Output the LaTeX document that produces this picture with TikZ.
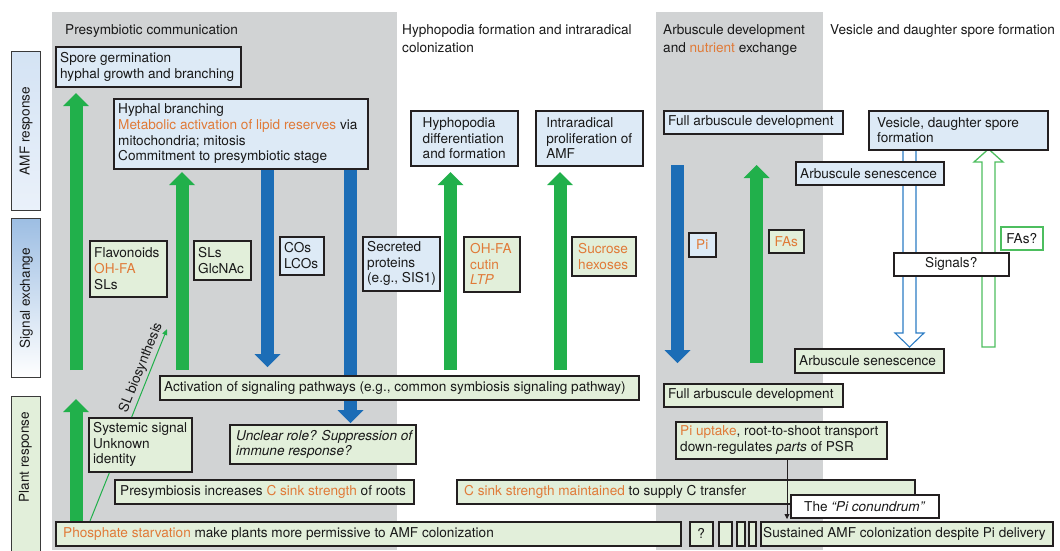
\documentclass[tikz,border=0pt]{standalone}
\usepackage{fontspec}
\setmainfont{TeX Gyre Heros}
\usetikzlibrary{arrows.meta}
\definecolor{panel}{HTML}{D1D3D4}
\definecolor{lblue}{HTML}{DDEAF6}
\definecolor{lgreen}{HTML}{E2EFDA}
\definecolor{orng}{HTML}{E07A38}
\definecolor{grn}{HTML}{21B04B}
\definecolor{blu}{HTML}{1C6DB6}
\definecolor{bord}{HTML}{231F20}
\definecolor{labbord}{HTML}{3A3A3A}
\definecolor{ogrn}{HTML}{4DBE5F}
\definecolor{oblu}{HTML}{2C7CC4}
\definecolor{amftop}{HTML}{D4E3F4}
\definecolor{amfbot}{HTML}{EAF1FA}
\definecolor{sigtop}{HTML}{9DBEE3}
\pgfdeclarelayer{back}
\pgfdeclarelayer{mid}
\pgfsetlayers{back,mid,main}
\newcommand\bxfont{\fontsize{13.6}{15.6}\selectfont}
\tikzset{
  bx/.style={draw=bord, line width=1.5pt, inner sep=0pt, anchor=north west},
  bb/.style={bx, fill=lblue},
  gb/.style={bx, fill=lgreen},
  wb/.style={bx, fill=white},
  qb/.style={bx, draw=ogrn, fill=white},
  txt/.style={inner sep=0pt, align=left, font=\bxfont, text=black!90},
  lab/.style={draw=labbord, line width=1.4pt, inner sep=0pt, anchor=north west, minimum width=29},
  garr/.style={draw=grn, line width=13pt, -{Triangle[width=26pt,length=13pt,line width=0pt]}},
  barr/.style={draw=blu, line width=13pt, -{Triangle[width=26pt,length=13pt,line width=0pt]}},
}
\newcommand\lbox[8]{%
  \node[#2, minimum width={#5-#3}, minimum height={#6-#4}] (#1) at (#3,#4) {};
  \node[txt, anchor=west, xshift=#7pt] (#1-t) at (#1.west) {#8};}
\newcommand\cbox[7]{%
  \node[#2, minimum width={#5-#3}, minimum height={#6-#4}] (#1) at (#3,#4) {};
  \node[txt] (#1-t) at (#1.center) {#7};}
\begin{document}
\begin{tikzpicture}[x=1pt,y=-1pt]
\useasboundingbox (0,0) rectangle (1060,550);
\begin{pgfonlayer}{back}
  \fill[panel] (52,12) rectangle (397,550);
  \fill[panel] (656,12) rectangle (823,550);
\end{pgfonlayer}

% column titles
\node[txt, anchor=base west] (t1) at (65,34) {Presymbiotic communication};
\node[txt, anchor=north west, font=\fontsize{13.6}{17.5}\selectfont] (t2) at (402,24.5) {Hyphopodia formation and intraradical\\colonization};
\node[txt, anchor=north west, font=\fontsize{13.6}{17.5}\selectfont] (t3) at (663,24.5) {Arbuscule development\\and \textcolor{orng}{nutrient} exchange};
\node[txt, anchor=base west] (t4) at (830,34) {Vesicle and daughter spore formation};

% row labels
\node[lab, minimum height=159, top color=amftop, bottom color=amfbot] (amf) at (11,51) {};
\node[txt, rotate=90] (amf-t) at (amf.center) {AMF response};
\node[lab, minimum height=159, top color=sigtop, bottom color=white] (sig) at (11,218) {};
\node[txt, rotate=90] (sig-t) at (sig.center) {Signal exchange};
\node[lab, minimum height=164, fill=lgreen] (plant) at (11,396) {};
\node[txt, rotate=90] (plant-t) at (25.5,457) {Plant response};

% boxes
\lbox{spore}{bb}{55}{46}{240}{86}{5}{Spore germination\\hyphal growth and branching}
\lbox{hyph}{bb}{113}{98}{367}{168}{5}{Hyphal branching\\\textcolor{orng}{Metabolic activation of lipid reserves} via\\mitochondria; mitosis\\Commitment to presymbiotic stage}
\cbox{hypho}{bb}{410}{110}{517}{165}{Hyphopodia\\differentiation\\and formation}
\cbox{intra}{bb}{535}{110}{642}{165}{Intraradical\\proliferation of\\AMF}
\lbox{fullA}{bb}{663}{110}{842}{133}{5}{Full arbuscule development}
\lbox{vesic}{bb}{868}{110}{1047}{149}{9}{Vesicle, daughter spore\\formation}
\lbox{senA}{bb}{795}{161}{943}{184}{5}{Arbuscule senescence}
\lbox{flav}{gb}{89}{240}{166}{296}{5}{Flavonoids\\\textcolor{orng}{OH-FA}\\SLs}
\lbox{slg}{gb}{193}{240}{250}{279}{5}{SLs\\GlcNAc}
\lbox{cos}{bb}{279}{236}{323}{274}{5}{COs\\LCOs}
\lbox{secr}{bb}{362}{236}{439}{290}{5}{Secreted\\proteins\\(e.g., SIS1)}
\lbox{ohfa}{gb}{463}{236}{519}{291}{7}{\textcolor{orng}{OH-FA}\\\textcolor{orng}{cutin}\\\textcolor{orng}{\textit{LTP}}}
\lbox{sucr}{gb}{571}{236}{635}{275}{7}{\textcolor{orng}{Sucrose}\\\textcolor{orng}{hexoses}}
\cbox{pi}{bb}{688}{232}{715}{256}{\textcolor{orng}{Pi}}
\cbox{fas}{gb}{768}{229}{803}{252}{\textcolor{orng}{FAs}}
\cbox{fasq}{qb}{1000}{226}{1042}{249}{FAs?}
\cbox{signals}{wb}{893}{252}{1008}{275}{Signals?}
\lbox{senB}{gb}{794}{348}{943}{372}{5}{Arbuscule senescence}
\lbox{activ}{gb}{159}{375}{638}{399}{5}{Activation of signaling pathways (e.g., common symbiosis signaling pathway)}
\lbox{fullB}{gb}{663}{383}{842}{406}{5}{Full arbuscule development}
\lbox{syst}{gb}{88}{417}{191}{471}{5}{Systemic signal\\Unknown\\identity}
\lbox{uncl}{gb}{229}{424}{415}{463}{7}{\textit{Unclear role? Suppression of}\\\textit{immune response?}}
\lbox{presym}{gb}{114}{479}{413}{503}{6}{Presymbiosis increases \textcolor{orng}{C sink strength} of roots}
\lbox{piupt}{gb}{675}{421}{886}{458}{5}{\textcolor{orng}{Pi uptake}, root-to-shoot transport\\down-regulates \textit{parts} of PSR}
\lbox{csink}{gb}{456}{479}{914}{503}{8}{\textcolor{orng}{C sink strength maintained} to supply C transfer}
\cbox{conund}{wb}{790}{494}{938}{517}{The \textit{“Pi conundrum”}}
\lbox{phos}{gb}{55}{521}{680}{545}{8}{\textcolor{orng}{Phosphate starvation} make plants more permissive to AMF colonization}
\cbox{q}{gb}{689}{521}{712}{545}{?}
\node[gb, minimum width=13, minimum height=24] (s1) at (718,521) {};
\node[gb, minimum width=8, minimum height=24] (s2) at (736,521) {};
\node[gb, minimum width=7, minimum height=24] (s3) at (748,521) {};
\lbox{sust}{gb}{760}{521}{1052}{545}{3}{Sustained AMF colonization despite Pi delivery}

% Pi conundrum connector
\coordinate (pitip) at (787,519);
\draw[line width=0.9pt, draw=bord, -{Triangle[width=5pt,length=5pt]}] (piupt.south -| pitip) -- (pitip);

\begin{pgfonlayer}{mid}
  \coordinate (a1s) at (76,370); \coordinate (a1e) at (76,93);
  \draw[garr] (a1s) -- (a1e);
  \coordinate (a0e) at (76,399);
  \draw[garr] (phos.north -| a0e) -- (a0e);
  \coordinate (a2s) at (182,370); \coordinate (a2e) at (182,172);
  \draw[garr] (a2s) -- (a2e);
  \coordinate (b1e) at (267.5,367);
  \draw[barr] (hyph.south -| b1e) -- (b1e);
  \coordinate (b2e) at (350.5,423);
  \draw[barr] (hyph.south -| b2e) -- (b2e);
  \coordinate (a3s) at (450.5,370); \coordinate (a3e) at (450.5,172);
  \draw[garr] (a3s) -- (a3e);
  \coordinate (a4s) at (560,370); \coordinate (a4e) at (560,172);
  \draw[garr] (a4s) -- (a4e);
  \coordinate (b3s) at (677.5,165); \coordinate (b3e) at (677.5,363);
  \draw[barr] (b3s) -- (b3e);
  \coordinate (a5s) at (756.5,363); \coordinate (a5e) at (756.5,165);
  \draw[garr] (a5s) -- (a5e);
  % open arrows
  \coordinate (vtop) at (909.5,149);
  \draw[draw=oblu, line width=1.1pt, fill=white, line join=miter]
    (vtop) ++(-6.5,0) -- ++(0,184) -- ++(-8,0) -- ++(14.5,14) -- ++(14.5,-14) -- ++(-8,0) -- ++(0,-184);
  \coordinate (gbot) at (988.5,347);
  \draw[draw=ogrn, line width=1.3pt, fill=white, line join=miter]
    (gbot) ++(-6.5,0) -- ++(0,-185) -- ++(-8,0) -- ++(14.5,-13) -- ++(14.5,13) -- ++(-8,0) -- ++(0,185) -- cycle;
  % SL biosynthesis
  \coordinate (sls) at (90,521); \coordinate (sle) at (167,329);
  \draw[draw=grn, line width=1pt, -{Triangle[width=5pt,length=6pt]}] (sls) -- node[pos=0.78, sloped, above, font=\bxfont, text=black!90, inner sep=2.5pt] (sllab) {SL biosynthesis} (sle);
\end{pgfonlayer}
\end{tikzpicture}
\end{document}
